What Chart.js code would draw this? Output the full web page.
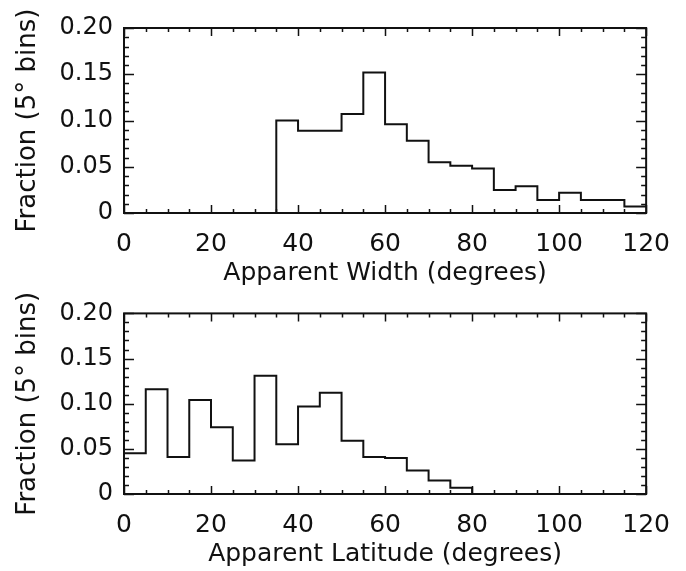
<!DOCTYPE html>
<html>
<head>
<meta charset="utf-8">
<script src="https://cdn.jsdelivr.net/npm/chart.js@4.4.1/dist/chart.umd.min.js"></script>
<style>
  html, body { margin: 0; padding: 0; background: #fff; }
  #wrap { position: relative; width: 686px; height: 571px; }
  .box { position: absolute; left: 0; width: 686px; }
  #topBox { top: 0; height: 288px; }
  #botBox { top: 288px; height: 283px; }
</style>
</head>
<body>
<div id="wrap">
  <div class="box" id="topBox"><canvas id="c1"></canvas></div>
  <div class="box" id="botBox"><canvas id="c2"></canvas></div>
</div>
<script>
// ---- data ----
// Bin edges in degrees (5-degree bins)
const widthEdges = [0, 5, 10, 15, 20, 25, 30, 35, 40, 45, 50, 55, 60, 65, 70, 75, 80, 85, 90, 95, 100, 105, 110, 115, 120];
// Fraction per bin, apparent width
const widthFractions = [0, 0, 0, 0, 0, 0, 0, 0.100, 0.089, 0.089, 0.107, 0.152, 0.096, 0.078, 0.055, 0.051, 0.048, 0.025, 0.029, 0.014, 0.022, 0.014, 0.014, 0.007];

const latitudeEdges = [0, 5, 10, 15, 20, 25, 30, 35, 40, 45, 50, 55, 60, 65, 70, 75, 80, 85, 90, 95];
// Fraction per bin, apparent latitude
const latitudeFractions = [0.045, 0.116, 0.041, 0.104, 0.074, 0.037, 0.131, 0.055, 0.097, 0.112, 0.059, 0.041, 0.040, 0.026, 0.015, 0.007, 0, 0, 0];

// Tick values
const xTicks = [0, 20, 40, 60, 80, 100, 120];
const yTicks = [0, 0.05, 0.10, 0.15, 0.20];
const yTickLabels = ['0', '0.05', '0.10', '0.15', '0.20'];
const yTitle = 'Fraction (5\u00b0 bins)';

// ---- helpers ----
function stepPoints(edges, values) {
  // one point per bin start, plus the final edge carrying the last value
  return edges.map((e, i) => ({ x: e, y: values[Math.min(i, values.length - 1)] }));
}

const INK = '#111';

const frameTicks = {
  id: 'frameTicks',
  afterDraw(chart) {
    const { ctx, chartArea: a, scales: { x, y } } = chart;
    ctx.save();
    ctx.strokeStyle = INK;
    ctx.lineWidth = 1.5;
    ctx.beginPath();
    // x ticks (minor every 5, major every 20), inward on bottom and top
    for (let v = x.min; v <= x.max + 1e-9; v += 5) {
      const px = Math.round(x.getPixelForValue(v)) + 0.5;
      const len = (Math.round(v) % 20 === 0) ? 8 : 4;
      ctx.moveTo(px, a.bottom); ctx.lineTo(px, a.bottom - len);
      ctx.moveTo(px, a.top); ctx.lineTo(px, a.top + len);
    }
    // y ticks (minor every 0.01, major every 0.05), inward on left and right
    for (let k = 0; k <= 20; k++) {
      const v = k / 100;
      const py = Math.round(y.getPixelForValue(v)) + 0.5;
      const len = (k % 5 === 0) ? 10 : 5;
      ctx.moveTo(a.left, py); ctx.lineTo(a.left + len, py);
      ctx.moveTo(a.right, py); ctx.lineTo(a.right - len, py);
    }
    ctx.stroke();
    ctx.lineWidth = 2;
    ctx.strokeRect(a.left, a.top, a.right - a.left, a.bottom - a.top);
    ctx.restore();
  }
};

function makeChart(canvasId, edges, values, xTitle, padTop, xHeight, titlePadBottom) {
  return new Chart(document.getElementById(canvasId), {
    type: 'line',
    data: {
      datasets: [{
        data: stepPoints(edges, values),
        stepped: 'before',
        borderColor: INK,
        borderWidth: 2,
        pointRadius: 0,
        fill: false,
        tension: 0
      }]
    },
    options: {
      responsive: true,
      maintainAspectRatio: false,
      animation: false,
      events: [],
      layout: { padding: { top: padTop, left: 0, right: 38, bottom: 0 } },
      plugins: { legend: { display: false }, tooltip: { enabled: false } },
      scales: {
        x: {
          type: 'linear',
          min: 0, max: 120,
          afterBuildTicks: s => { s.ticks = xTicks.map(v => ({ value: v })); },
          afterFit: s => { s.height = xHeight; },
          grid: { display: false, drawTicks: false },
          border: { display: false },
          ticks: {
            color: INK,
            font: { family: 'DejaVu Sans', size: 25 },
            padding: 16,
            maxRotation: 0,
            autoSkip: false
          },
          title: {
            display: true,
            text: xTitle,
            color: INK,
            font: { family: 'DejaVu Sans', size: 25 },
            padding: { top: 0, bottom: titlePadBottom }
          }
        },
        y: {
          type: 'linear',
          min: 0, max: 0.2,
          afterBuildTicks: s => { s.ticks = yTicks.map(v => ({ value: v })); },
          afterFit: s => { s.width = 124; },
          grid: { display: false, drawTicks: false },
          border: { display: false },
          ticks: {
            color: INK,
            font: { family: 'DejaVu Sans', size: 24 },
            padding: 11,
            autoSkip: false,
            callback: (v, i) => yTickLabels[i]
          },
          title: {
            display: true,
            text: yTitle,
            color: INK,
            font: { family: 'DejaVu Sans', size: 26 },
            padding: { top: 13, bottom: 0 }
          }
        }
      }
    },
    plugins: [frameTicks]
  });
}

makeChart('c1', widthEdges, widthFractions, 'Apparent Width (degrees)', 28, 75, 0);
makeChart('c2', latitudeEdges, latitudeFractions, 'Apparent Latitude (degrees)', 20, 77, 2);
</script>
</body>
</html>
